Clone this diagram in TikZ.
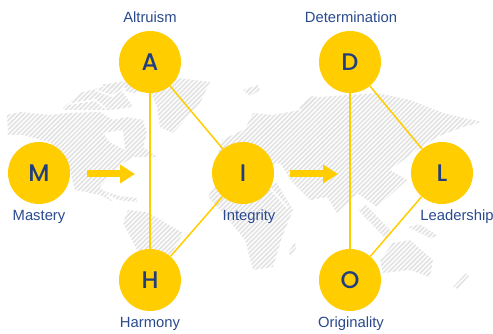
\documentclass[tikz,border=0pt]{standalone}
\usepackage{fontspec}
\setmainfont{Liberation Sans}
\newfontfamily\letterfont[UprightFont={* Medium}]{Poppins}
\usetikzlibrary{arrows.meta,patterns.meta}
\definecolor{signyellow}{HTML}{FFCD00}
\definecolor{signblue}{HTML}{2A4A8E}
\definecolor{letterblue}{HTML}{1F3D7F}
\definecolor{mapgray}{HTML}{E2E2E2}
\tikzset{
  mapland/.style={pattern={Lines[angle=45,distance=3.3pt,line width=1.7pt]},pattern color=mapgray},
  seagap/.style={draw=white,line width=1.6pt,line join=round},
  letternode/.style={circle,fill=signyellow,minimum size=62pt,inner sep=0pt,text=letterblue,font=\letterfont\fontsize{24}{26}\selectfont},
  wordnode/.style={text=signblue,inner sep=0pt,font=\fontsize{14.8}{17}\selectfont},
  linkline/.style={signyellow,line width=1.5pt},
  stepline/.style={signyellow,line width=7pt,-{Triangle[length=15pt,width=18pt]}}
}
\begin{document}
\begin{tikzpicture}[x=1pt,y=-1pt]
\useasboundingbox (0,0) rectangle (493,334);

% map
\path[mapland] (7,115) -- (20,112) -- (50,115) -- (67,113) -- (100,112) -- (113,120) -- (127,117) -- (143,120) -- (147,133) -- (143,147) -- (157,157) -- (133,157) -- (117,167) -- (100,187) -- (113,202) -- (100,195) -- (75,190) -- (73,183) -- (70,170) -- (50,142) -- (23,135) -- (8,135) -- cycle;
\path[mapland] (63,108) -- (80,93) -- (117,83) -- (133,107) -- (110,110) -- (63,110) -- cycle;
\path[mapland] (100,85) -- (133,80) -- (150,90) -- (133,93) -- cycle;
\path[mapland] (170,77) -- (210,82) -- (200,103) -- (173,133) -- (160,127) -- (157,107) -- (150,90) -- cycle;
\path[mapland] (100,190) -- (120,196) -- (137,198) -- (137,202) -- (118,200) -- cycle;
\path[mapland] (123,223) -- (128,210) -- (147,212) -- (183,233) -- (173,252) -- (165,262) -- (145,265) -- cycle;
\path[mapland] (243,133) -- (253,113) -- (273,115) -- (300,110) -- (307,100) -- (320,97) -- (377,93) -- (410,100) -- (443,113) -- (482,122) -- (463,127) -- (437,137) -- (417,150) -- (390,170) -- (407,180) -- (377,207) -- (357,193) -- (337,213) -- (327,197) -- (310,200) -- (293,183) -- (280,163) -- (243,170) -- cycle;
\path[mapland] (222,140) -- (243,130) -- (243,170) -- (215,165) -- cycle;
\path[mapland] (208,197) -- (213,187) -- (243,190) -- (277,183) -- (293,210) -- (282,237) -- (273,267) -- (253,270) -- (245,240) -- (223,213) -- cycle;
\path[mapland] (288,253) -- (295,242) -- (296,248) -- (291,256) -- cycle;
\path[mapland] (243,90) -- (258,85) -- (260,90) -- (250,96) -- cycle;
\path[mapland] (298,108) -- (312,96) -- (318,97) -- (305,110) -- cycle;
\path[mapland] (358,210) -- (366,205) -- (392,232) -- (385,238) -- cycle;
\path[mapland] (408,227) -- (420,224) -- (438,236) -- (430,238) -- cycle;
\path[mapland] (380,260) -- (393,243) -- (410,240) -- (433,260) -- (430,277) -- (410,270) -- (383,273) -- cycle;
\path[mapland] (453,287) -- (466,273) -- (469,276) -- (458,289) -- cycle;

% bays and seas
\fill[white] (103,133) -- (123,130) -- (125,150) -- (110,142) -- cycle;
\draw[seagap] (70,104) -- (95,100) -- (105,108);
\draw[seagap] (95,90) -- (112,96) -- (125,88);
\draw[seagap] (270,188) -- (288,208);
\draw[seagap] (248,150) -- (265,165);

% circles
\node[letternode] (A) at (150,62) {A};
\node[letternode] (M) at (39,173) {M};
\node[letternode] (I) at (243,173) {I};
\node[letternode] (H) at (150,280) {H};
\node[letternode] (D) at (350,62) {D};
\node[letternode] (L) at (442,173) {L};
\node[letternode] (O) at (350,280) {O};

\node[wordnode] (altruism) at (150,17) {Altruism};
\node[wordnode] (mastery) at (39,217) {Mastery};
\node[wordnode] (integrity) at (249,217) {Integrity};
\node[wordnode] (harmony) at (150,324) {Harmony};
\node[wordnode] (determination) at (351,17) {Determination};
\node[wordnode] (leadership) at (457,217) {Leadership};
\node[wordnode] (originality) at (351,324) {Originality};

\draw[linkline] (A) -- (H);
\draw[linkline] (A) -- (I);
\draw[linkline] (H) -- (I);
\draw[linkline] (D) -- (O);
\draw[linkline] (D) -- (L);
\draw[linkline] (O) -- (L);

\coordinate (firststart) at (87,174);
\coordinate (firstend) at (135,174);
\coordinate (secondstart) at (290,174);
\coordinate (secondend) at (338,174);
\draw[stepline] (firststart) -- (firstend);
\draw[stepline] (secondstart) -- (secondend);
\end{tikzpicture}
\end{document}
